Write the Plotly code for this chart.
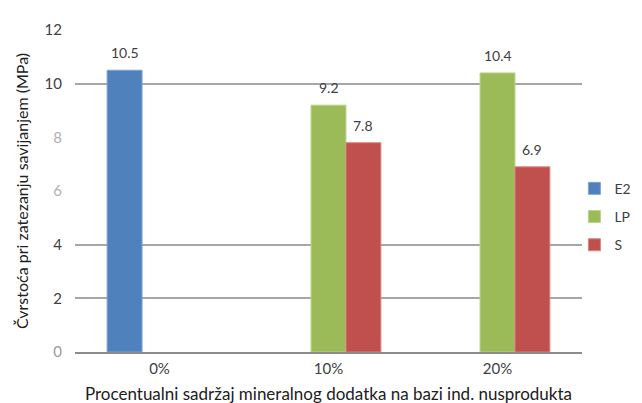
import plotly.graph_objects as go

categories = ['0%', '10%', '20%']
e2 = [10.5, None, None]
lp = [None, 9.2, 10.4]
s = [None, 7.8, 6.9]

series_names = ['E2', 'LP', 'S']
colors = ['#4F81BD', '#9BBB59', '#C0504D']
edges = ['#7da3d3', '#b9d487', '#d98583']

ytick_vals = [0, 2, 4, 6, 8, 10, 12]
ytick_text = ['<span style="color:#9a9a9a">0</span>', '2', '4',
              '<span style="color:#b0b0b0">6</span>',
              '<span style="color:#b0b0b0">8</span>', '10', '12']

font = 'Lato, Open Sans, sans-serif'

# bar slot geometry (fraction of one category)
gap = 0.38
slot = (1 - gap) / 3
offsets = [-1.5 * slot, -0.5 * slot, 0.5 * slot]
cat_px = (642 - 67 - 68) / 3

fig = go.Figure()
for name, vals, c, ec, off in zip(series_names, [e2, lp, s], colors, edges, offsets):
    fig.add_trace(go.Bar(x=categories, y=vals, name=name, legendgroup=name,
                         width=slot, offset=off,
                         marker=dict(color=c, line=dict(color=ec, width=1))))
    # value labels a bit above the bars
    for cat, v in zip(categories, vals):
        if v is None:
            continue
        fig.add_annotation(x=cat, y=v, text=f'{v:.1f}', showarrow=False,
                           xref='x', yref='y', yanchor='bottom',
                           xshift=(off + slot / 2) * cat_px, yshift=7,
                           font=dict(size=14, color='#404040', family=font))

fig.update_layout(
    width=642, height=403,
    margin=dict(l=67, r=68, t=22, b=59, autoexpand=False),
    paper_bgcolor='white', plot_bgcolor='white',
    barmode='overlay',
    font=dict(family=font, size=14, color='#404040'),
    legend=dict(x=0.985, y=0.42, xanchor='left', yanchor='middle',
                tracegroupgap=7, itemwidth=30, traceorder='grouped',
                bgcolor='rgba(0,0,0,0)',
                font=dict(size=14, color='#404040', family=font)),
    xaxis=dict(showline=True, linecolor='#8c8c8c', linewidth=1.5,
               ticks='', ticklabelstandoff=2, automargin=False,
               tickfont=dict(size=15, color='#404040'),
               title=dict(text='Procentualni sadržaj mineralnog dodatka na bazi ind. nusprodukta',
                          font=dict(size=17, color='#202020'), standoff=12)),
    yaxis=dict(range=[0, 12], tickvals=ytick_vals, ticktext=ytick_text,
               showgrid=False, zeroline=False, ticks='', ticklabelstandoff=12,
               automargin=False,
               tickfont=dict(size=15, color='#404040'),
               minor=dict(tickvals=[2, 4, 10], showgrid=True,
                          gridcolor='#a6a6a6', gridwidth=1.5),
               title=dict(text='Čvrstoća pri zatezanju savijanjem (MPa)',
                          font=dict(size=16, color='#202020'), standoff=11)),
)

fig.write_html('out.html')
